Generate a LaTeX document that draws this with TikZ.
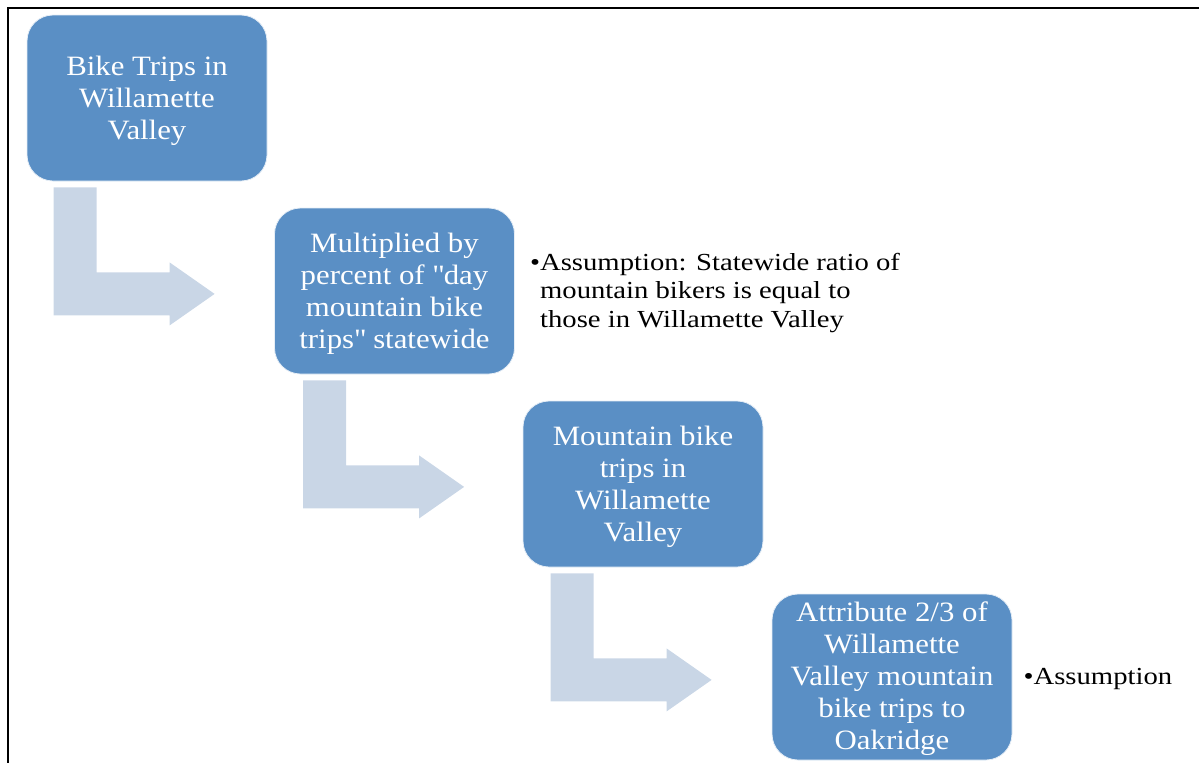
\documentclass[tikz,border=0pt]{standalone}
\usepackage{fontspec}
\setmainfont[FakeStretch=1.1]{Liberation Serif}
\newfontfamily\sidefont[FakeStretch=1.17]{Liberation Serif}
\usetikzlibrary{calc}
\definecolor{boxblue}{HTML}{5A8FC5}
\definecolor{arrowblue}{HTML}{C9D6E6}
\tikzset{
  x=1pt, y=-1pt,
  stepbox/.style={draw=white!85!boxblue, line width=0.8pt, fill=boxblue, rounded corners=26pt,
    minimum width=240pt, minimum height=166pt, inner sep=0pt},
  boxtext/.style={align=center, inner sep=0pt, text=white,
    font=\fontsize{28}{32}\selectfont},
  sidenote/.style={anchor=west, align=left, inner sep=0pt, text=black,
    font=\sidefont\fontsize{24.5}{28.5}\selectfont},
  frameline/.style={line width=2pt, black},
  bentarrow/.pic={
    \fill[arrowblue] (0,0) -- (43,0) -- (43,85) -- (116,85) -- (116,75) -- (161,106.5)
      -- (116,138) -- (116,128) -- (0,128) -- cycle;
  }
}
\begin{document}
\begin{tikzpicture}
\useasboundingbox (0,0) rectangle (1202,763);
% frame (top and left edges)
\draw[frameline] (7,8) -- (1199,8);
\draw[frameline] (8,8) -- (8,763);

\node[stepbox] (b1) at (147,98) {};
\node[stepbox] (b2) at (394.5,291) {};
\node[stepbox] (b3) at (643,484) {};
\node[stepbox] (b4) at (892,677) {};

\node[boxtext] (t1) at ($(b1.center)+(0,3)$) {Bike Trips in\\Willamette\\Valley};
\node[boxtext] (t2) at ($(b2.center)+(0,3)$) {Multiplied by\\percent of \textquotedbl day\\mountain bike\\trips\textquotedbl{} statewide};
\node[boxtext] (t3) at ($(b3.center)+(0,3)$) {Mountain bike\\trips in\\Willamette\\Valley};
\node[boxtext] (t4) at ($(b4.center)+(0,2)$) {Attribute 2/3 of\\Willamette\\Valley mountain\\bike trips to\\Oakridge};

\pic at ($(b1.south west)+(27,6)$) {bentarrow};
\pic at ($(b2.south west)+(29,6)$) {bentarrow};
\pic at ($(b3.south west)+(28,6)$) {bentarrow};

\node[sidenote] (n2) at ($(b2.east)+(15,2)$) {•Assumption: Statewide ratio of\\\hphantom{•}mountain bikers is equal to\\\hphantom{•}those in Willamette Valley};
\node[sidenote] (n4) at ($(b4.east)+(11,2)$) {•Assumption};
\end{tikzpicture}
\end{document}
